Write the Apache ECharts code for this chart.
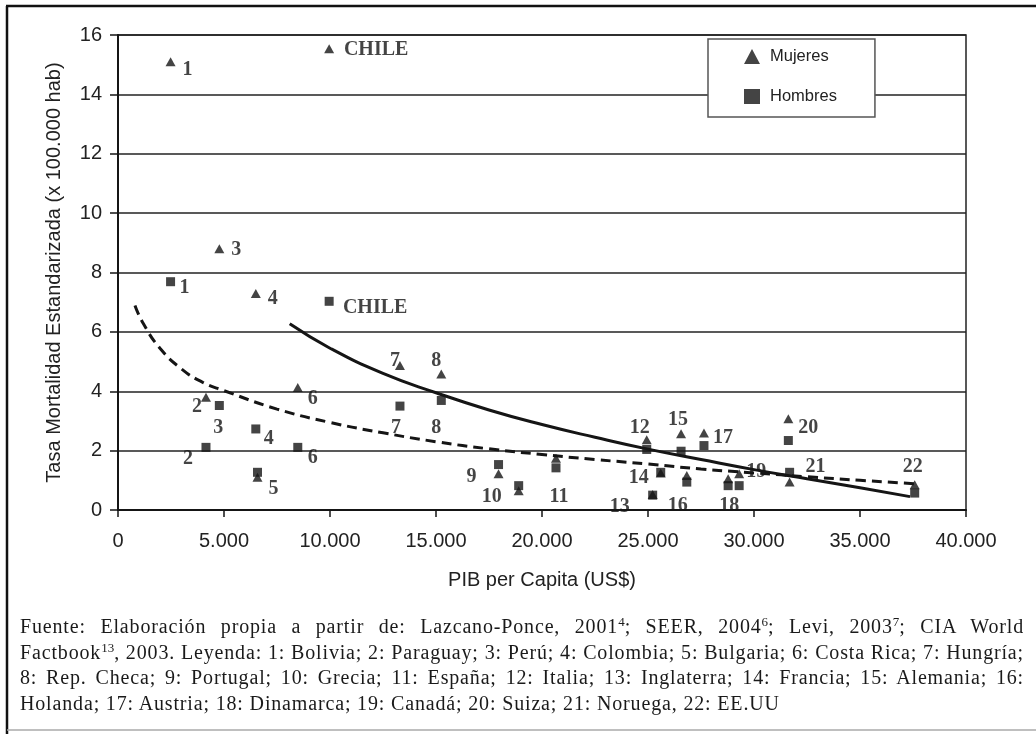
<!DOCTYPE html>
<html>
<head>
<meta charset="utf-8">
<script src="https://cdn.jsdelivr.net/npm/echarts/dist/echarts.min.js"></script>
<style>
  html, body { margin: 0; padding: 0; background: #fff; }
  #chart { position: absolute; left: 0; top: 0; width: 1036px; height: 734px; }
  #caption {
    position: absolute; left: 20px; top: 614px; width: 1004px;
    font-family: "Liberation Serif", serif; font-size: 20px; letter-spacing: 0.84px;
    line-height: 25.7px; color: #1a1a1a;
  }
  #caption div { white-space: nowrap; text-align: justify; text-align-last: justify; }
  #caption div.last { text-align-last: left; }
  #caption sup { font-size: 13px; line-height: 0; vertical-align: 7px; letter-spacing: 0; }
</style>
</head>
<body>
<div id="chart"></div>
<div id="caption"></div>
<script>
// country codes as printed next to the marks
const countries = ['1', '2', '3', '4', '5', '6', '7', '8', '9', '10', '11', '12', '13', '14', '15', '16', '17', '18', '19', '20', '21', '22', 'CHILE']
// PIB per capita (US$)
const gdp = [2480, 4150, 4780, 6500, 6580, 8480, 13300, 15250, 17950, 18900, 20660, 24940, 25220, 25600, 26560, 26830, 27640, 28780, 29300, 31620, 31680, 37580, 9960]
// tasa estandarizada x 100.000
const mujeres = [15.1, 3.8, 8.8, 7.29, 1.1, 4.13, 4.87, 4.58, 1.22, 0.65, 1.74, 2.37, 0.52, 1.25, 2.57, 1.16, 2.59, 1.05, 1.22, 3.07, 0.94, 0.85, 15.54]
const hombres = [7.69, 2.11, 3.52, 2.73, 1.27, 2.11, 3.5, 3.69, 1.53, 0.82, 1.42, 2.04, 0.5, 1.27, 1.98, 0.94, 2.17, 0.82, 0.82, 2.34, 1.27, 0.57, 7.03]

// trend curves
const solidX = [8100, 10000, 12500, 15000, 17500, 20000, 22500, 25000, 27500, 30000, 32500, 35000, 37360]
const solidY = [6.27, 5.45, 4.6, 3.95, 3.37, 2.88, 2.45, 2.05, 1.7, 1.36, 1.05, 0.75, 0.45]
const dashX = [800, 1200, 2000, 3000, 4000, 5000, 7500, 10000, 12500, 15000, 17500, 20000, 22500, 25000, 27500, 30000, 32500, 35000, 37700]
const dashY = [6.89, 6.27, 5.43, 4.75, 4.3, 4.02, 3.4, 2.95, 2.6, 2.3, 2.06, 1.87, 1.7, 1.55, 1.38, 1.25, 1.12, 1.0, 0.88]

const xTicks = [0, 5000, 10000, 15000, 20000, 25000, 30000, 35000, 40000]

const captionLines = [
  'Fuente: Elaboración propia a partir de: Lazcano-Ponce, 2001<sup>4</sup>; SEER, 2004<sup>6</sup>; Levi, 2003<sup>7</sup>; CIA World',
  'Factbook<sup>13</sup>, 2003. Leyenda: 1: Bolivia; 2: Paraguay; 3: Perú; 4: Colombia; 5: Bulgaria; 6: Costa Rica; 7: Hungría;',
  '8: Rep. Checa; 9: Portugal; 10: Grecia; 11: España; 12: Italia; 13: Inglaterra; 14: Francia; 15: Alemania; 16:',
  'Holanda; 17: Austria; 18: Dinamarca; 19: Canadá; 20: Suiza; 21: Noruega, 22: EE.UU',
]

// label placement (pixel offset from the mark centre)
const mujeresLabelOffsets = {
  '1': [17, 8], '2': [-9, 10], '3': [17, 1], '4': [17, 5], '5': [16, 11], '6': [15, 11],
  '7': [-5, -5], '8': [-5, -13], '9': [-27, 3], '10': [-27, 6], '12': [-7, -12], '15': [-3, -14],
  '17': [19, 5], '19': [17, -2], '20': [20, 9], '22': [-2, -18], 'CHILE': [47, 1],
}
const hombresLabelOffsets = {
  '1': [14, 6], '2': [-18, 11], '3': [-1, 22], '4': [13, 10], '6': [15, 10], '7': [-4, 22],
  '8': [-5, 27], '11': [3, 29], '13': [-33, 12], '14': [-22, 6], '16': [-9, 24], '18': [1, 20],
  '21': [26, -5], 'CHILE': [46, 7],
}

const caption = document.getElementById('caption')
caption.innerHTML = captionLines
  .map((l, i) => `<div${i === captionLines.length - 1 ? ' class="last"' : ''}>${l}</div>`)
  .join('')

const SANS = '"Liberation Sans", Arial, sans-serif'
const SERIF = '"Liberation Serif", "Times New Roman", serif'
const INK = '#151515'

function points(values, offsets) {
  return countries.map((c, i) => {
    const item = { name: c, value: [gdp[i], values[i]] }
    if (offsets[c]) {
      item.label = {
        show: true,
        position: 'inside',
        offset: offsets[c],
        formatter: c,
        color: INK,
        fontFamily: SERIF,
        fontWeight: 'bold',
        fontSize: 20,
        textBorderWidth: 0,
      }
    }
    return item
  })
}

const chart = echarts.init(document.getElementById('chart'), null, { renderer: 'canvas' })

chart.setOption({
  animation: false,
  backgroundColor: '#fff',
  grid: {
    left: 118, top: 35, width: 848, height: 475,
    show: true, borderColor: '#222', borderWidth: 1.5,
  },
  legend: {
    orient: 'vertical',
    left: 708, top: 39,
    padding: [9, 38, 12, 36],
    itemGap: 23,
    itemWidth: 16, itemHeight: 15,
    backgroundColor: '#fff',
    borderColor: '#555', borderWidth: 1.5, borderRadius: 0,
    textStyle: { fontFamily: SANS, fontSize: 16.5, color: '#222', lineHeight: 15, padding: [0, 0, 0, 5] },
    data: [
      { name: 'Mujeres', icon: 'triangle' },
      { name: 'Hombres', icon: 'rect' },
    ],
    selectedMode: false,
  },
  xAxis: {
    type: 'value',
    min: 0, max: 40000, interval: 5000,
    name: 'PIB per Capita (US$)',
    nameLocation: 'middle',
    nameGap: 60,
    nameTextStyle: { fontFamily: SANS, fontSize: 20, color: '#222' },
    axisLine: { lineStyle: { color: INK, width: 2 } },
    axisTick: { show: true, length: 7, lineStyle: { color: INK, width: 1.5 } },
    axisLabel: {
      fontFamily: SANS, fontSize: 20, color: '#222', margin: 21,
      formatter: (v) => (xTicks.includes(v) && v > 0 ? (v / 1000) + '.000' : String(v)),
    },
    splitLine: { show: false },
  },
  yAxis: {
    type: 'value',
    min: 0, max: 16, interval: 2,
    name: 'Tasa Mortalidad Estandarizada (x 100.000 hab)',
    nameLocation: 'middle',
    nameGap: 54,
    nameTextStyle: { fontFamily: SANS, fontSize: 20, color: '#222' },
    axisLine: { show: true, lineStyle: { color: INK, width: 2 } },
    axisTick: { show: true, length: 8, lineStyle: { color: INK, width: 1.5 } },
    axisLabel: { fontFamily: SANS, fontSize: 20, color: '#222', margin: 16 },
    splitLine: { show: true, lineStyle: { color: '#222', width: 1.5 } },
  },
  series: [
    {
      name: 'Tendencia 1',
      type: 'line',
      data: solidX.map((x, i) => [x, solidY[i]]),
      smooth: 0.5,
      showSymbol: false,
      silent: true,
      lineStyle: { color: INK, width: 3 },
      z: 2,
    },
    {
      name: 'Tendencia 2',
      type: 'line',
      data: dashX.map((x, i) => [x, dashY[i]]),
      smooth: 0.5,
      showSymbol: false,
      silent: true,
      lineStyle: { color: INK, width: 3, type: [10, 6] },
      z: 2,
    },
    {
      name: 'Mujeres',
      type: 'scatter',
      symbol: 'triangle',
      symbolSize: [10, 9],
      itemStyle: { color: INK },
      data: points(mujeres, mujeresLabelOffsets),
      z: 3,
    },
    {
      name: 'Hombres',
      type: 'scatter',
      symbol: 'rect',
      symbolSize: 9,
      itemStyle: { color: INK },
      data: points(hombres, hombresLabelOffsets),
      z: 4,
    },
  ],
  graphic: [
    { type: 'line', shape: { x1: 6, y1: 6, x2: 1036, y2: 6 }, style: { stroke: '#111', lineWidth: 2.5 } },
    { type: 'line', shape: { x1: 7, y1: 6, x2: 7, y2: 734 }, style: { stroke: '#111', lineWidth: 2.5 } },
    { type: 'line', shape: { x1: 7, y1: 730, x2: 1036, y2: 730 }, style: { stroke: '#aaa', lineWidth: 1.5 } },
  ],
})
</script>
</body>
</html>
